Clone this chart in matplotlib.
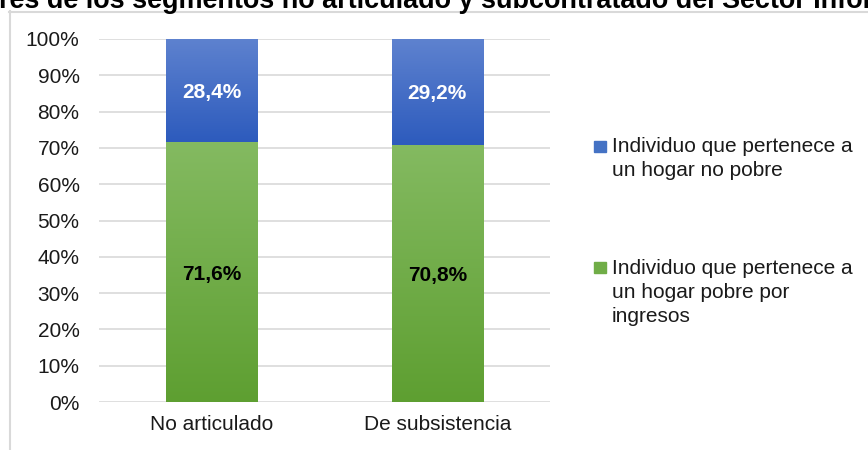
import numpy as np
import matplotlib
matplotlib.use("Agg")
import matplotlib.pyplot as plt
from matplotlib.lines import Line2D
from matplotlib.patches import Rectangle

plt.rcParams["font.family"] = ["Liberation Sans", "DejaVu Sans"]

categorias = ["No articulado", "De subsistencia"]
pobre = [71.6, 70.8]
no_pobre = [28.4, 29.2]
etiquetas_pobre = ["71,6%", "70,8%"]
etiquetas_no_pobre = ["28,4%", "29,2%"]
leyenda_no_pobre = ["Individuo que pertenece a", "un hogar no pobre"]
leyenda_pobre = ["Individuo que pertenece a", "un hogar pobre por", "ingresos"]
titulo = "res de los segmentos no articulado y subcontratado del Sector Infor"

W, H = 868, 450
fig = plt.figure(figsize=(W / 100, H / 100), dpi=100)
ax = fig.add_axes([99 / W, 1 - 402 / H, (550 - 99) / W, (402 - 39) / H])

x = np.arange(len(categorias))
ancho = 0.405
b1 = ax.bar(x, pobre, ancho, color="#70AD47", zorder=2)
b2 = ax.bar(x, no_pobre, ancho, bottom=pobre, color="#4472C4", zorder=2)


def degradado(barras, arriba, abajo):
    c1 = np.array(matplotlib.colors.to_rgb(arriba))
    c2 = np.array(matplotlib.colors.to_rgb(abajo))
    t = np.linspace(0, 1, 256)[:, None]
    img = (c1 * (1 - t) + c2 * t)[:, None, :]
    for p in barras:
        x0, y0 = p.get_x(), p.get_y()
        im = ax.imshow(img, extent=[x0, x0 + p.get_width(), y0, y0 + p.get_height()],
                       aspect="auto", zorder=3, interpolation="bilinear")
        im.set_clip_path(p)


degradado(b1, "#84BA61", "#5E9F31")
degradado(b2, "#5E82CF", "#2D5BBD")

for i in range(len(categorias)):
    ax.text(x[i], pobre[i] / 2, etiquetas_pobre[i], ha="center", va="center_baseline",
            fontsize=15, fontweight="bold", color="black", zorder=4)
    ax.text(x[i], pobre[i] + no_pobre[i] / 2, etiquetas_no_pobre[i], ha="center",
            va="center_baseline", fontsize=15, fontweight="bold", color="white", zorder=4)

ax.set_xlim(-0.5, 1.5)
ax.set_ylim(0, 100)
ax.set_yticks(np.arange(0, 101, 10))
ax.set_yticklabels([f"{v}%" for v in range(0, 101, 10)])
ax.set_xticks(x)
ax.set_xticklabels(categorias)
ax.tick_params(axis="y", length=0, pad=14, labelsize=15, labelcolor="#1a1a1a")
ax.tick_params(axis="x", length=0, pad=9, labelsize=15, labelcolor="#1a1a1a")
ax.grid(axis="y", color="#D9D9D9", linewidth=1.2, zorder=0)
for s in ax.spines.values():
    s.set_visible(False)

# leyenda
def px(xp, yp):
    return xp / W, 1 - yp / H

for lineas, color, y_cuadro, y_base in [(leyenda_no_pobre, "#4472C4", 141, 152),
                                         (leyenda_pobre, "#70AD47", 262, 274)]:
    fig.patches.append(Rectangle(px(594, y_cuadro + 11), 12 / W, 11 / H,
                                 transform=fig.transFigure, color=color))
    for j, txt in enumerate(lineas):
        fig.text(*px(612, y_base + 24 * j), txt, fontsize=15, color="#1a1a1a",
                 va="baseline", ha="left")

# marco del grafico
fig.lines.append(Line2D([9.5 / W, 9.5 / W], [1 - 11 / H, 0], transform=fig.transFigure,
                        color="#D9D9D9", linewidth=1.5))
fig.lines.append(Line2D([9 / W, 1], [1 - 11.5 / H, 1 - 11.5 / H], transform=fig.transFigure,
                        color="#D9D9D9", linewidth=1.5))

# titulo recortado como en la imagen original
t = fig.text(0.5, 1 - 7.5 / H, titulo, ha="center", va="baseline",
             fontsize=15, fontweight="bold", color="black")
r = fig.canvas.get_renderer()
ancho_t = t.get_window_extent(r).width
t.set_fontsize(15 * 880 / ancho_t)
t.set_x(436 / W)

fig.savefig("out.png", dpi=100)
